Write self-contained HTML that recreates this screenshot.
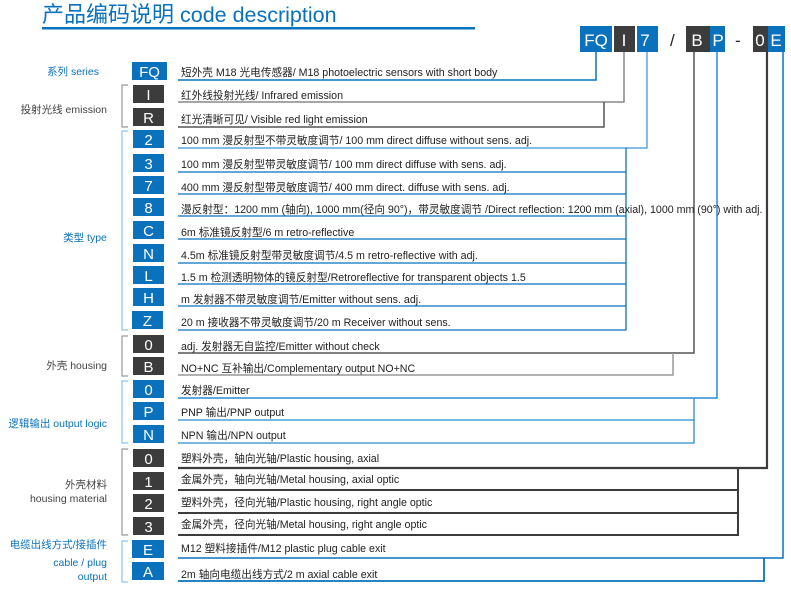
<!DOCTYPE html>
<html><head><meta charset="utf-8"><style>
body{margin:0;background:#fff}
svg{display:block}
text{font-family:"Liberation Sans","Noto Sans CJK SC",sans-serif}
.t{font-size:10.65px;fill:#222}
.bl{fill:#0a72bd}
.g{fill:#444}
.lb{font-size:10.5px}
.bx{font-size:15px;fill:#fff;text-anchor:middle}
</style></head><body>
<svg width="791" height="589" viewBox="0 0 791 589" xmlns="http://www.w3.org/2000/svg">
<text x="42" y="22" style="font-size:21.5px;fill:#0a72bd"><tspan style="font-size:22px">产品编码说明</tspan> code description</text>
<rect x="42" y="27" width="433" height="2.5" fill="#0a72bd"/>

<rect x="580" y="26" width="32" height="26" fill="#0a72bd"/><text class="bx" x="596" y="46" style="font-size:17px">FQ</text>
<rect x="614" y="26" width="21" height="26" fill="#3c3c3c"/><text class="bx" x="624" y="46" style="font-size:17px">I</text>
<rect x="637" y="26" width="21" height="26" fill="#0a72bd"/><text class="bx" x="645" y="46" style="font-size:17px">7</text>
<text x="670" y="46" style="font-size:17px;fill:#222">/</text>
<rect x="686" y="26" width="24" height="26" fill="#3c3c3c"/><text class="bx" x="697" y="46" style="font-size:17px">B</text>
<rect x="710" y="26" width="15" height="26" fill="#0a72bd"/><text class="bx" x="718" y="46" style="font-size:17px">P</text>
<text x="735" y="46" style="font-size:17px;fill:#222">-</text>
<rect x="753" y="26" width="15" height="26" fill="#3c3c3c"/><text class="bx" x="760" y="46" style="font-size:17px">0</text>
<rect x="768" y="26" width="17" height="26" fill="#0a72bd"/><text class="bx" x="776" y="46" style="font-size:17px">E</text>

<g fill="none">
<path d="M596 52V80H178" stroke="#0a72bd" stroke-width="1.5"/>
<path d="M624 52V102H178" stroke="#888" stroke-width="1.5"/>
<path d="M604 102V127H178" stroke="#555" stroke-width="1.5"/>
<path d="M647 52V148H178" stroke="#5aa6dc" stroke-width="1.5"/>
<path d="M626 148V330H178 M626 172H178 M626 194H178 M626 216H178 M626 239H178 M626 263H178 M626 284H178 M626 306H178" stroke="#0a72bd" stroke-width="1.3"/>
<path d="M694 52V353H178" stroke="#555" stroke-width="1.5"/>
<path d="M673 353V375H178" stroke="#999" stroke-width="1.5"/>
<path d="M717 52V398H178" stroke="#2a8ad0" stroke-width="1.5"/>
<path d="M694 398V443H178 M694 420H178" stroke="#2a8ad0" stroke-width="1.3"/>
<path d="M767 52V468H178" stroke="#3c3c3c" stroke-width="2.2"/>
<path d="M738 468V535H178 M738 490H178 M738 513H178" stroke="#3c3c3c" stroke-width="2"/>
<path d="M783 52V558H178" stroke="#0a72bd" stroke-width="1.5"/>
<path d="M764 558V581H178" stroke="#0a72bd" stroke-width="1.8"/>
<path d="M128 85H122V127H128" stroke="#999" stroke-width="1.2"/>
<path d="M128 131H122V330H128" stroke="#8ec3ea" stroke-width="1.2"/>
<path d="M128 336H122V376H128" stroke="#999" stroke-width="1.2"/>
<path d="M128 381H122V443H128" stroke="#8ec3ea" stroke-width="1.2"/>
<path d="M128 449H122V535H128" stroke="#999" stroke-width="1.2"/>
<path d="M128 541H122V582H128" stroke="#8ec3ea" stroke-width="1.2"/>
</g>

<text class="lb bl" x="73" y="75" text-anchor="middle">系列 series</text>
<text class="lb g" x="107" y="113" text-anchor="end">投射光线 emission</text>
<text class="lb bl" x="85" y="241" text-anchor="middle">类型 type</text>
<text class="lb g" x="107" y="369" text-anchor="end">外壳 housing</text>
<text class="lb bl" x="107" y="427" text-anchor="end">逻辑输出 output logic</text>
<text class="lb g" x="107" y="488" text-anchor="end">外壳材料</text>
<text class="lb g" x="107" y="502" text-anchor="end">housing material</text>
<text class="lb bl" x="107" y="548" text-anchor="end">电缆出线方式/接插件</text>
<text class="lb bl" x="107" y="566" text-anchor="end">cable / plug</text>
<text class="lb bl" x="107" y="580" text-anchor="end">output</text>

<g>
<rect x="132" y="62" width="35" height="18" fill="#0a72bd"/><text class="bx" x="149.5" y="77">FQ</text>
<text class="t" x="181" y="76">短外壳 M18 光电传感器/ M18 photoelectric sensors with short body</text>

<rect x="133" y="85" width="31" height="18" fill="#3c3c3c"/><text class="bx" x="148.5" y="100">I</text>
<text class="t" x="181" y="99">红外线投射光线/ Infrared emission</text>
<rect x="133" y="108" width="31" height="18" fill="#3c3c3c"/><text class="bx" x="148.5" y="123">R</text>
<text class="t" x="181" y="123">红光清晰可见/ Visible red light emission</text>

<rect x="133" y="130" width="31" height="18" fill="#0a72bd"/><text class="bx" x="148.5" y="145">2</text>
<text class="t" x="181" y="144">100 mm 漫反射型不带灵敏度调节/ 100 mm direct diffuse without sens. adj.</text>
<rect x="133" y="154" width="31" height="18" fill="#0a72bd"/><text class="bx" x="148.5" y="169">3</text>
<text class="t" x="181" y="168">100 mm 漫反射型带灵敏度调节/ 100 mm direct diffuse with sens. adj.</text>
<rect x="133" y="176" width="31" height="18" fill="#0a72bd"/><text class="bx" x="148.5" y="191">7</text>
<text class="t" x="181" y="191">400 mm 漫反射型带灵敏度调节/ 400 mm direct. diffuse with sens. adj.</text>
<rect x="133" y="198" width="31" height="18" fill="#0a72bd"/><text class="bx" x="148.5" y="213">8</text>
<text class="t" x="181" y="213">漫反射型：1200 mm (轴向), 1000 mm(径向 90°)，带灵敏度调节 /Direct reflection: 1200 mm (axial), 1000 mm (90°) with adj.</text>
<rect x="133" y="221" width="31" height="18" fill="#0a72bd"/><text class="bx" x="148.5" y="236">C</text>
<text class="t" x="181" y="236">6m 标准镜反射型/6 m retro-reflective</text>
<rect x="133" y="244" width="31" height="18" fill="#0a72bd"/><text class="bx" x="148.5" y="259">N</text>
<text class="t" x="181" y="259">4.5m 标准镜反射型带灵敏度调节/4.5 m retro-reflective with adj.</text>
<rect x="133" y="266" width="31" height="18" fill="#0a72bd"/><text class="bx" x="148.5" y="281">L</text>
<text class="t" x="181" y="281">1.5 m 检测透明物体的镜反射型/Retroreflective for transparent objects 1.5</text>
<rect x="133" y="288" width="31" height="18" fill="#0a72bd"/><text class="bx" x="148.5" y="303">H</text>
<text class="t" x="181" y="303">m 发射器不带灵敏度调节/Emitter without sens. adj.</text>
<rect x="132" y="311" width="31" height="18" fill="#0a72bd"/><text class="bx" x="147.5" y="326">Z</text>
<text class="t" x="181" y="326">20 m 接收器不带灵敏度调节/20 m Receiver without sens.</text>

<rect x="133" y="335" width="31" height="18" fill="#3c3c3c"/><text class="bx" x="148.5" y="350">0</text>
<text class="t" x="181" y="350">adj. 发射器无自监控/Emitter without check</text>
<rect x="133" y="357" width="31" height="18" fill="#3c3c3c"/><text class="bx" x="148.5" y="372">B</text>
<text class="t" x="181" y="372">NO+NC 互补输出/Complementary output NO+NC</text>

<rect x="133" y="380" width="31" height="18" fill="#0a72bd"/><text class="bx" x="148.5" y="395">0</text>
<text class="t" x="181" y="394">发射器/Emitter</text>
<rect x="133" y="402" width="31" height="18" fill="#0a72bd"/><text class="bx" x="148.5" y="417">P</text>
<text class="t" x="181" y="416">PNP 输出/PNP output</text>
<rect x="133" y="425" width="31" height="18" fill="#0a72bd"/><text class="bx" x="148.5" y="440">N</text>
<text class="t" x="181" y="439">NPN 输出/NPN output</text>

<rect x="133" y="449" width="31" height="18" fill="#3c3c3c"/><text class="bx" x="148.5" y="464">0</text>
<text class="t" x="181" y="462">塑料外壳，轴向光轴/Plastic housing, axial</text>
<rect x="133" y="472" width="31" height="18" fill="#3c3c3c"/><text class="bx" x="148.5" y="487">1</text>
<text class="t" x="181" y="483">金属外壳，轴向光轴/Metal housing, axial optic</text>
<rect x="133" y="494" width="31" height="18" fill="#3c3c3c"/><text class="bx" x="148.5" y="509">2</text>
<text class="t" x="181" y="506">塑料外壳，径向光轴/Plastic housing, right angle optic</text>
<rect x="133" y="517" width="31" height="18" fill="#3c3c3c"/><text class="bx" x="148.5" y="532">3</text>
<text class="t" x="181" y="528">金属外壳，径向光轴/Metal housing, right angle optic</text>

<rect x="132" y="540" width="32" height="18" fill="#0a72bd"/><text class="bx" x="148" y="555">E</text>
<text class="t" x="181" y="552">M12 塑料接插件/M12 plastic plug cable exit</text>
<rect x="132" y="562" width="32" height="18" fill="#0a72bd"/><text class="bx" x="148" y="577">A</text>
<text class="t" x="181" y="578">2m 轴向电缆出线方式/2 m axial cable exit</text>
</g>
</svg>
</body></html>
